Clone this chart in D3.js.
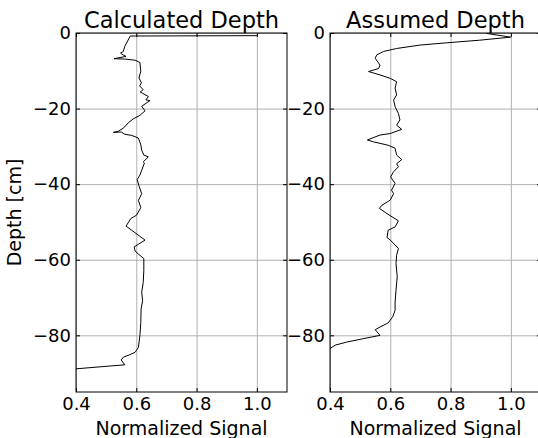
<!DOCTYPE html>
<html>
<head>
  <meta charset="utf-8">
  <title>Depth profiles</title>
  <script src="https://d3js.org/d3.v7.min.js"></script>
  <style>
    body { margin: 0; background: white; }
    text { font-family: "DejaVu Sans", sans-serif; fill: black; }
    .grid line { stroke: #b0b0b0; stroke-width: 1; }
    .grid path { display: none; }
    .ticks line { stroke: black; stroke-width: 1; }
    .ticks path { display: none; }
    .ticklabels text { font-size: 18px; }
    .ticklabels line, .ticklabels path { display: none; }
  </style>
</head>
<body>
  <div id="chart"></div>
  <script>
    // Values
    const xTicks = [0.4, 0.6, 0.8, 1.0];
    const yTicks = [0, -20, -40, -60, -80];

    const calcDepth = [-0.7, -0.8, -3.5, -4.9, -5.3, -5.6, -6.2, -6.8, -6.9, -7.2, -7.8, -10.1, -11.9, -13.2, -14.0, -15.0, -15.6, -16.8, -17.7, -17.9, -19.4, -20.6, -21.8, -22.7, -23.8, -25.2, -26.0, -26.3, -26.2, -26.8, -27.1, -27.8, -29.6, -31.0, -32.3, -32.8, -34.1, -34.4, -36.3, -37.6, -38.8, -40.7, -42.5, -44.3, -46.2, -48.2, -49.1, -51.1, -52.2, -53.8, -54.8, -55.9, -56.6, -57.7, -58.5, -59.7, -62.8, -66.0, -68.6, -70.8, -73.0, -76.6, -80.1, -83.2, -84.5, -85.1, -85.8, -86.5, -87.3, -87.8, -89.0];
    const calcSignal = [1.0, 0.58, 0.562, 0.557, 0.548, 0.552, 0.566, 0.526, 0.562, 0.596, 0.612, 0.615, 0.609, 0.617, 0.611, 0.623, 0.613, 0.64, 0.632, 0.645, 0.618, 0.629, 0.612, 0.59, 0.573, 0.557, 0.54, 0.524, 0.55, 0.562, 0.585, 0.607, 0.615, 0.618, 0.625, 0.64, 0.623, 0.627, 0.618, 0.612, 0.603, 0.61, 0.618, 0.607, 0.615, 0.601, 0.582, 0.566, 0.585, 0.612, 0.629, 0.607, 0.593, 0.596, 0.607, 0.625, 0.625, 0.623, 0.618, 0.621, 0.616, 0.615, 0.612, 0.607, 0.596, 0.579, 0.557, 0.55, 0.557, 0.562, 0.38];

    const assumedDepth = [-0.1, -1.1, -1.9, -2.6, -3.2, -4.1, -4.9, -5.8, -6.7, -8.5, -9.4, -10.2, -11.1, -12.0, -12.9, -14.6, -16.4, -17.7, -19.5, -21.3, -23.0, -24.4, -25.5, -26.6, -27.0, -28.3, -28.8, -29.7, -30.5, -32.3, -33.5, -34.6, -35.4, -36.7, -38.1, -39.8, -41.6, -42.5, -44.2, -45.6, -46.4, -47.8, -49.7, -51.3, -52.2, -54.1, -54.8, -57.0, -58.8, -61.0, -64.5, -68.1, -71.2, -73.4, -75.1, -76.7, -77.8, -78.5, -79.0, -80.0, -80.9, -81.8, -82.6, -83.5, -84.5];
    const assumedSignal = [0.919, 0.999, 0.897, 0.787, 0.698, 0.621, 0.577, 0.555, 0.55, 0.566, 0.561, 0.528, 0.566, 0.6, 0.621, 0.616, 0.621, 0.611, 0.616, 0.627, 0.632, 0.621, 0.638, 0.6, 0.566, 0.524, 0.544, 0.593, 0.616, 0.621, 0.638, 0.621, 0.627, 0.611, 0.601, 0.616, 0.604, 0.611, 0.6, 0.572, 0.564, 0.589, 0.627, 0.616, 0.593, 0.589, 0.6, 0.627, 0.621, 0.619, 0.623, 0.619, 0.616, 0.616, 0.608, 0.593, 0.566, 0.55, 0.555, 0.566, 0.51, 0.455, 0.417, 0.4, 0.38];

    const W = 538, H = 438;
    const plotTop = 33, plotBottom = 392;

    const svg = d3.select("#chart").append("svg")
      .attr("width", W)
      .attr("height", H);

    const yScale = d3.scaleLinear().domain([-95, 0]).range([plotBottom, plotTop]);

    const panels = [
      { title: "Calculated Depth", left: 76, right: 287, depth: calcDepth, signal: calcSignal },
      { title: "Assumed Depth", left: 330, right: 541, depth: assumedDepth, signal: assumedSignal }
    ];

    panels.forEach(function(p, i) {
      const xScale = d3.scaleLinear().domain([0.4, 1.1]).range([p.left, p.right]);
      const g = svg.append("g");
      const h = plotBottom - plotTop;

      // grid
      g.append("g").attr("class", "grid")
        .attr("transform", "translate(0," + plotBottom + ")")
        .call(d3.axisBottom(xScale).tickValues(xTicks).tickSize(-h).tickFormat(""));
      g.append("g").attr("class", "grid")
        .attr("transform", "translate(" + p.left + ",0)")
        .call(d3.axisLeft(yScale).tickValues(yTicks).tickSize(-(p.right - p.left)).tickFormat(""));

      // inward ticks on all sides
      g.append("g").attr("class", "ticks")
        .attr("transform", "translate(0," + plotBottom + ")")
        .call(d3.axisBottom(xScale).tickValues(xTicks).tickSize(-4).tickFormat(""));
      g.append("g").attr("class", "ticks")
        .attr("transform", "translate(0," + plotTop + ")")
        .call(d3.axisTop(xScale).tickValues(xTicks).tickSize(-4).tickFormat(""));
      g.append("g").attr("class", "ticks")
        .attr("transform", "translate(" + p.left + ",0)")
        .call(d3.axisLeft(yScale).tickValues(yTicks).tickSize(-4).tickFormat(""));
      g.append("g").attr("class", "ticks")
        .attr("transform", "translate(" + p.right + ",0)")
        .call(d3.axisRight(yScale).tickValues(yTicks).tickSize(-4).tickFormat(""));

      // clip + data line
      g.append("clipPath").attr("id", "clip" + i)
        .append("rect")
        .attr("x", p.left).attr("y", plotTop)
        .attr("width", p.right - p.left).attr("height", h);

      const pts = p.depth.map((d, k) => [p.signal[k], d]);
      g.append("path")
        .datum(pts)
        .attr("clip-path", "url(#clip" + i + ")")
        .attr("fill", "none")
        .attr("stroke", "black")
        .attr("stroke-width", 1)
        .attr("d", d3.line().x(d => xScale(d[0])).y(d => yScale(d[1])));

      // frame
      g.append("rect")
        .attr("x", p.left).attr("y", plotTop)
        .attr("width", p.right - p.left).attr("height", h)
        .attr("fill", "none").attr("stroke", "black").attr("stroke-width", 1);

      // tick labels
      g.append("g").attr("class", "ticklabels")
        .attr("transform", "translate(0," + plotBottom + ")")
        .call(d3.axisBottom(xScale).tickValues(xTicks).tickSize(0).tickPadding(5).tickFormat(d3.format(".1f")));
      g.append("g").attr("class", "ticklabels")
        .attr("transform", "translate(" + p.left + ",0)")
        .call(d3.axisLeft(yScale).tickValues(yTicks).tickSize(0).tickPadding(5));

      // title
      g.append("text")
        .attr("x", (p.left + p.right) / 2)
        .attr("y", 28)
        .attr("text-anchor", "middle")
        .style("font-size", "22.5px")
        .text(p.title);

      // x label
      g.append("text")
        .attr("x", (p.left + p.right) / 2)
        .attr("y", 435)
        .attr("text-anchor", "middle")
        .style("font-size", "19px")
        .text("Normalized Signal");
    });

    // y label
    svg.append("text")
      .attr("transform", "translate(21," + ((plotTop + plotBottom) / 2) + ") rotate(-90)")
      .attr("text-anchor", "middle")
      .style("font-size", "19px")
      .text("Depth [cm]");
  </script>
</body>
</html>
